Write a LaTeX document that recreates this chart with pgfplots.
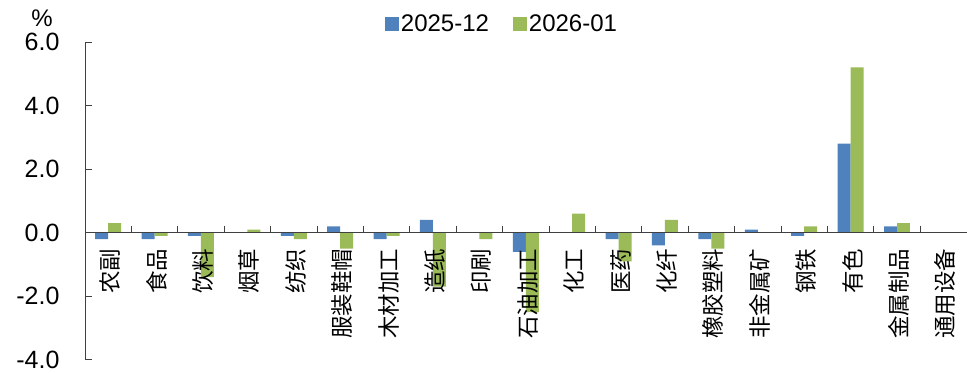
\documentclass[border=0pt]{standalone}
\usepackage{pgfplots}
\pgfplotsset{compat=1.18}
\usepackage{fontspec}
\setmainfont{Liberation Sans}
\newfontfamily\cjk{Noto Sans CJK SC}
\definecolor{cblue}{HTML}{4F81BD}
\definecolor{cgreen}{HTML}{9BBB59}
\begin{document}
\begin{tikzpicture}
\begin{axis}[
  name=ax,
  scale only axis,
  clip=false,
  axis on top,
  width=882pt, height=318pt,
  xmin=-0.5, xmax=18.5,
  ymin=-4, ymax=6,
  axis x line=middle,
  axis y line=left,
  axis line style={-, draw=black!75, line width=0.8pt},
  ybar=0pt, bar width=13pt,
  xtick={0,...,18},
  xticklabels={农副,食品,饮料,烟草,纺织,服装鞋帽,木材加工,造纸,印刷,石油加工,化工,医药,化纤,橡胶塑料,非金属矿,钢铁,有色,金属制品,通用设备},
  xticklabel style={rotate=90, anchor=east, font=\cjk\fontsize{22.5}{26}\selectfont, inner sep=1pt, xshift=-15pt, yshift=-2pt},
  major x tick style={draw=none},
  minor xtick={0.5,1.5,...,17.5},
  minor x tick style={draw=black!75, line width=0.8pt},
  ytick={-4,-2,0,2,4,6},
  y tick style={draw=black!75, line width=0.8pt},
  tick align=inside,
  major tick length=7pt, minor tick length=7pt,
  yticklabel style={font=\fontsize{25}{28}\selectfont, xshift=-22pt},
  /pgf/number format/assume math mode=true,
  y tick label style={/pgf/number format/.cd, fixed, fixed zerofill, precision=1},
  legend style={draw=none, legend columns=2, at={(0.473,1.015)}, anchor=south,
    font=\fontsize{24}{28}\selectfont,
    /tikz/every even column/.append style={column sep=22pt}},
  legend image code/.code={\fill[#1] (0pt,-7pt) rectangle (14pt,7pt);},
]
\addplot[fill=cblue, draw=none] coordinates {
(0,-0.2) (1,-0.2) (2,-0.1) (3,0) (4,-0.1) (5,0.2) (6,-0.2) (7,0.4) (8,0)
(9,-0.6) (10,0) (11,-0.2) (12,-0.4) (13,-0.2) (14,0.1) (15,-0.1) (16,2.8) (17,0.2) (18,0)};
\addplot[fill=cgreen, draw=none] coordinates {
(0,0.3) (1,-0.1) (2,-1.4) (3,0.1) (4,-0.2) (5,-0.5) (6,-0.1) (7,-1.7) (8,-0.2)
(9,-2.5) (10,0.6) (11,-0.9) (12,0.4) (13,-0.5) (14,0) (15,0.2) (16,5.2) (17,0.3) (18,0)};
\legend{2025-12,2026-01}
\node[font=\fontsize{24}{28}\selectfont] at ([xshift=-43pt,yshift=24pt]rel axis cs:0,1) {\%};
\end{axis}
\path[use as bounding box] ([xshift=-85pt,yshift=-10pt]ax.south west) rectangle ([yshift=42pt]ax.north east);
\end{tikzpicture}
\end{document}
